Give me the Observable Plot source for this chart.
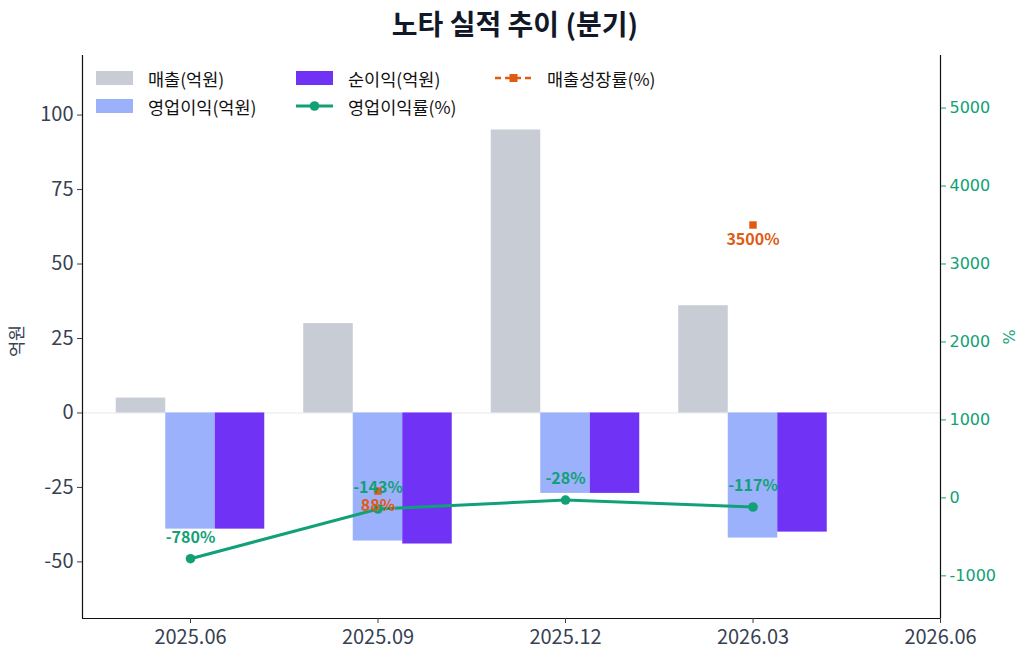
<!DOCTYPE html>
<html>
<head>
<meta charset="utf-8">
<script src="https://cdn.jsdelivr.net/npm/d3@7"></script>
<script src="https://cdn.jsdelivr.net/npm/@observablehq/plot@0.6"></script>
<style>
  html, body { margin: 0; padding: 0; background: #fff; }
  #wrap { position: relative; width: 1030px; height: 660px; font-family: "Noto Sans CJK KR", "Noto Sans", sans-serif; }
  #title { height: 44px; line-height: 46px; text-align: center; font-size: 28px; font-weight: 700; color: #111827; }
  #legend { position: absolute; left: 96px; top: 66px; font-size: 17.5px; color: #111; }
  .item { position: absolute; display: flex; align-items: center; white-space: nowrap; height: 24px; }
  .sw { width: 37px; height: 14px; margin-right: 15px; }
  .ln { width: 37px; height: 14px; margin-right: 15px; }
</style>
</head>
<body>
<div id="wrap">
  <div id="title">노타 실적 추이 (분기)</div>
  <div id="chart"></div>
  <div id="legend"></div>
</div>
<script>
// ---- data ----
const quarters = ["2025.06", "2025.09", "2025.12", "2026.03"];
const tickLabels = ["2025.06", "2025.09", "2025.12", "2026.03", "2026.06"];
const revenue = [5, 30, 95, 36];          // 매출(억원)
const opProfit = [-39, -43, -27, -42];    // 영업이익(억원)
const netProfit = [-39, -44, -27, -40];   // 순이익(억원)
const opMargin = [-780, -143, -28, -117]; // 영업이익률(%)
const revGrowth = [null, 88, null, 3500]; // 매출성장률(%)
const leftTicks = [-50, -25, 0, 25, 50, 75, 100];
const rightTicks = [-1000, 0, 1000, 2000, 3000, 4000, 5000];

// ---- colours ----
const cRev = "#c8ccd5", cOp = "#9cb1fb", cNet = "#7033f5";
const cGreen = "#12a077", cOrange = "#e05a12";

// ---- scales ----
const xDomain = [-0.576, 4];
const yDomain = [-69, 120];
const pDomain = [-1547, 5674];
const toLeft = p => yDomain[0] + (p - pDomain[0]) * (yDomain[1] - yDomain[0]) / (pDomain[1] - pDomain[0]);
const fromLeft = v => pDomain[0] + (v - yDomain[0]) * (pDomain[1] - pDomain[0]) / (yDomain[1] - yDomain[0]);

const w = 0.264;
const bars = [];
quarters.forEach((q, i) => {
  bars.push({i, s: "rev", x1: i - 1.5 * w, x2: i - 0.5 * w, v: revenue[i]});
  bars.push({i, s: "op", x1: i - 0.5 * w, x2: i + 0.5 * w, v: opProfit[i]});
  bars.push({i, s: "net", x1: i + 0.5 * w, x2: i + 1.5 * w, v: netProfit[i]});
});
const colorOf = {rev: cRev, op: cOp, net: cNet};

const margin = quarters.map((q, i) => ({i, p: opMargin[i], y: toLeft(opMargin[i])}));
const growth = quarters.map((q, i) => ({i, p: revGrowth[i], y: revGrowth[i] == null ? NaN : toLeft(revGrowth[i])}));
const growthPts = growth.filter(d => d.p != null);

const font = "Noto Sans CJK KR";
const chart = Plot.plot({
  width: 1030,
  height: 616,
  marginTop: 11,
  marginBottom: 42,
  marginLeft: 82,
  marginRight: 90,
  style: {fontFamily: font, background: "#fff", overflow: "visible"},
  x: {type: "linear", domain: xDomain, axis: null},
  y: {type: "linear", domain: yDomain, axis: null},
  marks: [
    Plot.ruleY([0], {stroke: "#e5e7eb", strokeWidth: 1}),
    Plot.rectY(bars, {x1: "x1", x2: "x2", y1: 0, y2: "v", fill: d => colorOf[d.s], insetLeft: 0, insetRight: 0}),
    Plot.line(margin, {x: "i", y: "y", stroke: cGreen, strokeWidth: 3}),
    Plot.dot(margin, {x: "i", y: "y", fill: cGreen, r: 4.8}),
    Plot.line(growth, {x: "i", y: "y", stroke: cOrange, strokeWidth: 2.4, strokeDasharray: "6,4"}),
    Plot.dot(growthPts, {x: "i", y: "y", fill: cOrange, symbol: "square", r: 4.2}),
    Plot.text(margin, {x: "i", y: "y", text: d => d.p + "%", dy: -21, fill: cGreen, fontWeight: 700, fontSize: 16, fontFamily: font}),
    Plot.text(growthPts, {x: "i", y: "y", text: d => d.p + "%", dy: 15, fill: cOrange, fontWeight: 700, fontSize: 16, fontFamily: font}),
    // spines
    Plot.ruleX([xDomain[0]], {stroke: "#111", strokeWidth: 1.2}),
    Plot.ruleX([xDomain[1]], {stroke: "#111", strokeWidth: 1.2}),
    Plot.ruleY([yDomain[0]], {stroke: "#111", strokeWidth: 1.2}),
    // axes
    Plot.axisX([0, 1, 2, 3, 4], {tickFormat: (d) => tickLabels[d], tickSize: 5, tickPadding: 6, fontSize: 20, color: "#374151", fontFamily: font, label: null}),
    Plot.axisY(leftTicks, {anchor: "left", tickFormat: d => String(d), tickSize: 5, tickPadding: 4, fontSize: 20, color: "#374151", fontFamily: font, label: null}),
    Plot.axisY(rightTicks.map(toLeft), {anchor: "right", tickFormat: d => String(Math.round(fromLeft(d))), tickSize: 5, tickPadding: 4, fontSize: 16, color: cGreen, fontFamily: "DejaVu Sans", label: null})
  ]
});
document.getElementById("chart").appendChild(chart);

// axis titles
const ns = "http://www.w3.org/2000/svg";
function addLabel(txt, x, y, fill, family, size) {
  const t = document.createElementNS(ns, "text");
  t.setAttribute("transform", `translate(${x},${y}) rotate(-90)`);
  t.setAttribute("text-anchor", "middle");
  t.setAttribute("dominant-baseline", "middle");
  t.setAttribute("fill", fill);
  t.setAttribute("font-family", family);
  t.setAttribute("font-size", size);
  t.textContent = txt;
  chart.appendChild(t);
}
addLabel("억원", 18, 297, "#374151", font, 17.5);
addLabel("%", 1010, 293, cGreen, "DejaVu Sans", 16);

// legend
const legendItems = [
  {label: "매출(억원)", kind: "rect", color: cRev, left: 0, top: 0},
  {label: "영업이익(억원)", kind: "rect", color: cOp, left: 0, top: 28},
  {label: "순이익(억원)", kind: "rect", color: cNet, left: 200, top: 0},
  {label: "영업이익률(%)", kind: "line", color: cGreen, left: 200, top: 28},
  {label: "매출성장률(%)", kind: "dash", color: cOrange, left: 399, top: 0}
];
const lg = document.getElementById("legend");
legendItems.forEach(it => {
  const d = document.createElement("div");
  d.className = "item";
  d.style.left = it.left + "px";
  d.style.top = it.top + "px";
  let sw;
  if (it.kind === "rect") {
    sw = `<div class="sw" style="background:${it.color}"></div>`;
  } else if (it.kind === "line") {
    sw = `<svg class="ln" viewBox="0 0 37 14"><line x1="0" y1="7" x2="37" y2="7" stroke="${it.color}" stroke-width="3"/><circle cx="18.5" cy="7" r="4.8" fill="${it.color}"/></svg>`;
  } else {
    sw = `<svg class="ln" viewBox="0 0 37 14"><line x1="0" y1="7" x2="37" y2="7" stroke="${it.color}" stroke-width="2.4" stroke-dasharray="6,4"/><rect x="14.5" y="3" width="8" height="8" fill="${it.color}"/></svg>`;
  }
  d.innerHTML = sw + `<span>${it.label}</span>`;
  lg.appendChild(d);
});
</script>
</body>
</html>
